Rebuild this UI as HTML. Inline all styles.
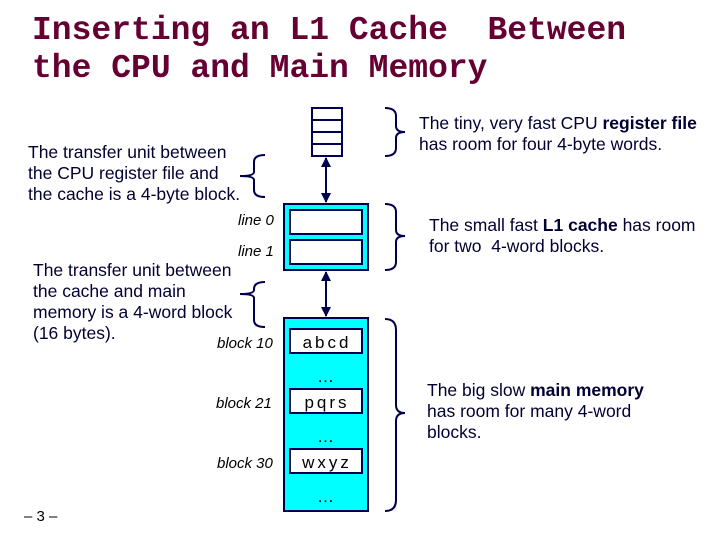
<!DOCTYPE html>
<html><head><style>
body{margin:0;width:720px;height:540px;background:#fff;overflow:hidden;position:relative;font-family:"Liberation Sans",sans-serif}
.t{position:absolute;white-space:pre}
.title{left:32px;font-family:"Liberation Mono",monospace;font-weight:bold;font-size:33px;color:#660033;line-height:38px}
.s{font-size:17.5px;color:#000033;line-height:21px}
.r{font-size:17.5px;color:#000033;line-height:21px}
.i{font-style:italic;font-size:15px;color:#000}
</style></head><body>
<div class="t title" style="top:12px">Inserting an L1 Cache  Between
the CPU and Main Memory</div>
<svg width="720" height="540" style="position:absolute;left:0;top:0">
<defs><marker id="a" markerWidth="10" markerHeight="10" refX="9" refY="5" orient="auto-start-reverse" markerUnits="userSpaceOnUse"><path d="M0,0 L10,5 L0,10 z" fill="#000050"/></marker></defs>
<g stroke="#000050" stroke-width="2" fill="none">
<rect x="312" y="108" width="30" height="48" fill="#fff"/>
<line x1="312" y1="120" x2="342" y2="120"/><line x1="312" y1="132" x2="342" y2="132"/><line x1="312" y1="144" x2="342" y2="144"/>
<line x1="326" y1="158" x2="326" y2="202" marker-start="url(#a)" marker-end="url(#a)"/>
<rect x="284" y="204" width="84" height="66" fill="#00ffff"/>
<rect x="290" y="210" width="72" height="24" fill="#fff"/>
<rect x="290" y="240" width="72" height="24" fill="#fff"/>
<line x1="326" y1="272" x2="326" y2="316" marker-start="url(#a)" marker-end="url(#a)"/>
<rect x="284" y="318" width="84" height="193" fill="#00ffff"/>
<rect x="290" y="329" width="72" height="24" fill="#fff"/>
<rect x="290" y="389" width="72" height="24" fill="#fff"/>
<rect x="290" y="449" width="72" height="24" fill="#fff"/>
<path d="M385,108 Q396,108 396,116 L396,126 Q396,132 405,132 Q396,132 396,138 L396,148 Q396,156 385,156"/>
<path d="M385,204 Q396,204 396,212 L396,230 Q396,236 405,236 Q396,236 396,242 L396,262 Q396,270 385,270"/>
<path d="M385,319 Q396,319 396,330 L396,405 Q396,413 405,413 Q396,413 396,421 L396,500 Q396,511 385,511"/>
<path d="M265,155 Q254,155 254,162 L254,172 Q254,176 240,176 Q254,176 254,180 L254,190 Q254,197 265,197"/>
<path d="M265,282 Q254,282 254,289 L254,290 Q254,294 240,294 Q254,294 254,298 L254,320 Q254,327 265,327"/>
</g>
<g font-family="Liberation Sans" font-size="17" fill="#000" text-anchor="middle" letter-spacing="3">
<text x="327" y="348">abcd</text><text x="327" y="408">pqrs</text><text x="327" y="468">wxyz</text>
<text x="327" y="382">…</text><text x="327" y="442">…</text><text x="327" y="502">…</text>
</g>
</svg>
<div class="t r" style="left:419px;top:113px">The tiny, very fast CPU <b>register file</b>
has room for four 4-byte words.</div>
<div class="t s" style="left:28px;top:142px">The transfer unit between
the CPU register file and
the cache is a 4-byte block.</div>
<div class="t r" style="left:429px;top:215px">The small fast <b>L1 cache</b> has room
for two  4-word blocks.</div>
<div class="t s" style="left:33px;top:260px">The transfer unit between
the cache and main
memory is a 4-word block
(16 bytes).</div>
<div class="t r" style="left:427px;top:380px">The big slow <b>main memory</b>
has room for many 4-word
blocks.</div>
<div class="t i" style="left:238px;top:212px">line 0</div>
<div class="t i" style="left:238px;top:243px">line 1</div>
<div class="t i" style="left:217px;top:335px">block 10</div>
<div class="t i" style="left:216px;top:395px">block 21</div>
<div class="t i" style="left:217px;top:455px">block 30</div>
<div class="t" style="left:24px;top:508px;font-size:15px">– 3 –</div>
</body></html>
